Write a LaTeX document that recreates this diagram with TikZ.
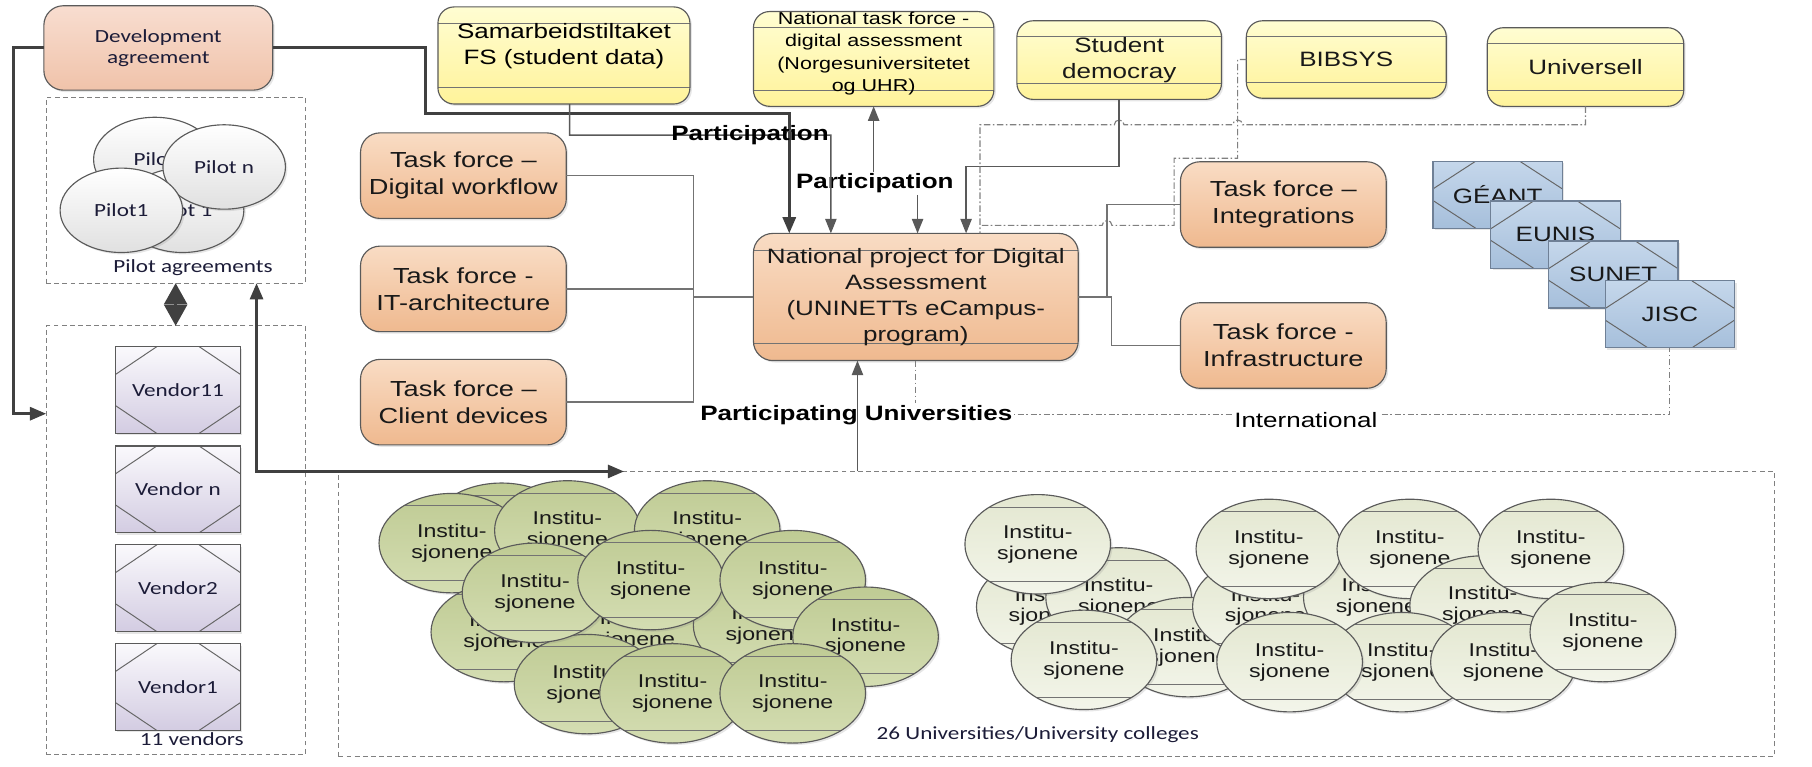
\documentclass[tikz,border=0pt]{standalone}
\usepackage{fontspec}
\setmainfont{Liberation Sans}[FakeStretch=1.25]
\newfontfamily\calfont{Carlito}[FakeStretch=1.25]
\usetikzlibrary{calc,shapes.geometric,arrows.meta,shadows}

\newcommand\mainsz{\fontsize{12.8}{16}\selectfont}
\newcommand\tasksz{\fontsize{13.4}{16.5}\selectfont}
\newcommand\natsz{\fontsize{10.6}{13.8}\selectfont}
\newcommand\instsz{\fontsize{11.4}{12.8}\selectfont}
\newcommand\calsz{\calfont\fontsize{11.4}{12.8}\selectfont}

\definecolor{taskTop}{HTML}{F9DCC4}
\definecolor{taskBot}{HTML}{EFB98F}
\definecolor{devTop}{HTML}{F8DDD0}
\definecolor{devBot}{HTML}{F0C3AA}
\definecolor{yelTop}{HTML}{FFFDD2}
\definecolor{yelBot}{HTML}{FFF39A}
\definecolor{blueTop}{HTML}{C5D7EB}
\definecolor{blueBot}{HTML}{A6BFDB}
\definecolor{netLine}{HTML}{6F8096}
\definecolor{venTop}{HTML}{FAF9FC}
\definecolor{venBot}{HTML}{D3CCE2}
\definecolor{greenTop}{HTML}{BFCB94}
\definecolor{greenBot}{HTML}{D4DDB2}
\definecolor{paleTop}{HTML}{E3E7D0}
\definecolor{paleBot}{HTML}{F3F5EA}
\definecolor{lineGray}{HTML}{5A5A5A}
\definecolor{txtNavy}{HTML}{1C1C38}

\tikzset{
	shade box/.style={draw=lineGray, line width=0.7pt, inner sep=0pt, outer sep=0pt, align=center, text=black!90,
		drop shadow={shadow xshift=1.2pt, shadow yshift=-1.2pt, opacity=0.2}},
	bars/.style={path picture={
		\draw[black!55, line width=0.6pt]
			([yshift=-#1]path picture bounding box.north west) -- ([yshift=-#1]path picture bounding box.north east)
			([yshift=#1]path picture bounding box.south west) -- ([yshift=#1]path picture bounding box.south east);}},
	bars/.default=0.35cm,
	chamfer/.style={path picture={
		\coordinate (cnw) at (path picture bounding box.north west);
		\coordinate (cne) at (path picture bounding box.north east);
		\coordinate (csw) at (path picture bounding box.south west);
		\coordinate (cse) at (path picture bounding box.south east);
		\draw[black!60, line width=0.6pt]
			([yshift=-0.6cm]cnw) -- ($(cnw)!0.33!(cne)$)
			($(cnw)!0.67!(cne)$) -- ([yshift=-0.6cm]cne)
			([yshift=0.6cm]csw) -- ($(csw)!0.33!(cse)$)
			($(csw)!0.67!(cse)$) -- ([yshift=0.6cm]cse);}},
	taskbox/.style={shade box, rounded corners=0.42cm, top color=taskTop, bottom color=taskBot, minimum width=4.45cm, minimum height=1.85cm, font=\tasksz},
	devbox/.style={shade box, rounded corners=0.42cm, top color=devTop, bottom color=devBot, minimum width=4.95cm, minimum height=1.825cm, font=\calsz, text=txtNavy},
	yelbox/.style={shade box, rounded corners=0.35cm, top color=yelTop, bottom color=yelBot, bars, font=\mainsz},
	netbox/.style={shade box, draw=netLine, top color=blueTop, bottom color=blueBot, chamfer, minimum width=2.8cm, minimum height=1.45cm, font=\mainsz},
	venbox/.style={shade box, top color=venTop, bottom color=venBot, chamfer, minimum width=2.7cm, minimum height=1.875cm, font=\calsz, text=txtNavy},
	pilot/.style={shade box, ellipse, top color=white, bottom color=black!12, minimum width=2.65cm, minimum height=1.825cm, font=\calsz, text=txtNavy},
	inst/.style={shade box, ellipse, bars=0.27cm, minimum width=3.15cm, minimum height=2.15cm, font=\instsz},
	greeninst/.style={inst, top color=greenTop, bottom color=greenBot},
	paleinst/.style={inst, top color=paleTop, bottom color=paleBot},
	grpbox/.style={draw=black!50, dash pattern=on 3pt off 2pt, line width=0.6pt, inner sep=0pt, outer sep=0pt},
	caption/.style={font=\calsz, text=txtNavy, inner sep=1pt},
	tagtext/.style={font=\mainsz\bfseries, inner sep=1pt},
	heavy/.style={line width=1.8pt, draw=black!75},
	lnk/.style={line width=0.9pt, draw=black!65, -{Triangle[length=9pt,width=7pt]}},
	thinln/.style={line width=0.9pt, draw=black!55},
	dashln/.style={line width=0.7pt, draw=black!50, dash pattern=on 4pt off 1.5pt on 1pt off 1.5pt},
}

\begin{document}
\begin{tikzpicture}[x=0.025cm, y=-0.025cm]
	%%%%% START %%%%%
	\useasboundingbox (0,0) rectangle (1568,663);

	% dashed groups
	\node[grpbox, minimum width=5.6cm, minimum height=4.025cm] (pilots) at (152,164.5) {};
	\node[grpbox, minimum width=5.6cm, minimum height=9.275cm] (vendors) at (152,467.5) {};
	\node[grpbox, minimum width=31.05cm, minimum height=6.175cm] (unis) at (914,531.5) {};

	\node[devbox] (dev) at (137,41.5) {Development\\agreement};

	\node[pilot] (pa) at (134,138) {Pilot};
	\node[pilot] (pb) at (158,182) {Pilot 1};
	\node[pilot] (pn) at (194,144.5) {Pilot n};
	\node[pilot] (p1) at (105,182) {Pilot1};
	\node[caption] (pilotcap) at (167,232) {Pilot agreements};

	\node[venbox] (v11) at (154,337.5) {Vendor11};
	\node[venbox] (vn) at (154,423.5) {Vendor n};
	\node[venbox] (v2) at (154,509) {Vendor2};
	\node[venbox] (v1) at (154,594.5) {Vendor1};
	\node[caption] (vendcap) at (166,640) {11 vendors};

	% partners on top
	\node[yelbox, minimum width=5.45cm, minimum height=2.1cm,
		label={[font=\mainsz, align=center, yshift=0.2cm]center:{Samarbeidstiltaket\\FS (student data)}}] (samar) at (488,48) {};
	\node[yelbox, minimum width=5.2cm, minimum height=2.05cm,
		label={[font=\natsz, align=center, yshift=0.12cm]center:{National task force -\\digital assessment\\(Norgesuniversitetet\\og UHR)}}] (natl) at (756,51) {};
	\node[yelbox, minimum width=4.425cm, minimum height=1.7cm] (stud) at (968.5,52) {Student\\democray};
	\node[yelbox, minimum width=4.325cm, minimum height=1.675cm] (bib) at (1165,51.5) {BIBSYS};
	\node[yelbox, minimum width=4.25cm, minimum height=1.7cm] (univ) at (1372,58) {Universell};

	% task forces
	\node[taskbox] (dw) at (401,152) {Task force --\\Digital workflow};
	\node[taskbox] (it) at (401,250) {Task force -\\IT-architecture};
	\node[taskbox] (cd) at (401,348) {Task force --\\Client devices};
	\node[taskbox] (integ) at (1110.5,177) {Task force --\\Integrations};
	\node[taskbox] (infra) at (1110.5,299) {Task force -\\Infrastructure};

	\node[taskbox, font=\mainsz, bars=0.37cm, minimum width=7.025cm, minimum height=2.75cm] (center) at (792.5,257)
		{National project for Digital\\Assessment\\(UNINETTs eCampus-\\program)};

	% international
	\node[netbox] (geant) at (1296,168.5) {GÉANT};
	\node[netbox] (eunis) at (1346,203) {EUNIS};
	\node[netbox] (sunet) at (1396,237.5) {SUNET};
	\node[netbox] (jisc) at (1445,272) {JISC};

	% universities
	\node[greeninst] (ga) at (434,461) {Institu-\\sjonene};
	\node[greeninst] (gb) at (391,470) {Institu-\\sjonene};
	\node[greeninst] (gc) at (491,459) {Institu-\\sjonene};
	\node[greeninst] (gd) at (612,459) {Institu-\\sjonene};
	\node[greeninst] (ge) at (436,547) {Institu-\\sjonene};
	\node[greeninst] (gf) at (549,545) {Institu-\\sjonene};
	\node[greeninst] (gg) at (663,541) {Institu-\\sjonene};
	\node[greeninst] (gh) at (508,592) {Institu-\\sjonene};
	\node[greeninst] (gi) at (463,513) {Institu-\\sjonene};
	\node[greeninst] (gj) at (563,502) {Institu-\\sjonene};
	\node[greeninst] (gk) at (686,502) {Institu-\\sjonene};
	\node[greeninst] (gl) at (749,551) {Institu-\\sjonene};
	\node[greeninst] (gm) at (582,600) {Institu-\\sjonene};
	\node[greeninst] (gn) at (686,600) {Institu-\\sjonene};

	\node[paleinst] (ra) at (908,525) {Institu-\\sjonene};
	\node[paleinst] (rb) at (968,517) {Institu-\\sjonene};
	\node[paleinst] (rc) at (898,471) {Institu-\\sjonene};
	\node[paleinst] (rd) at (1028,560) {Institu-\\sjonene};
	\node[paleinst] (re) at (938,571) {Institu-\\sjonene};
	\node[paleinst] (rf) at (1095,525) {Institu-\\sjonene};
	\node[paleinst] (rg) at (1191,517) {Institu-\\sjonene};
	\node[paleinst] (rh) at (1098,475) {Institu-\\sjonene};
	\node[paleinst] (ri) at (1220,475) {Institu-\\sjonene};
	\node[paleinst] (rj) at (1283,524) {Institu-\\sjonene};
	\node[paleinst] (rk) at (1213,573) {Institu-\\sjonene};
	\node[paleinst] (rl) at (1116,573) {Institu-\\sjonene};
	\node[paleinst] (rm) at (1301,573) {Institu-\\sjonene};
	\node[paleinst] (rn) at (1342,475) {Institu-\\sjonene};
	\node[paleinst] (ro) at (1387,547) {Institu-\\sjonene};
	\node[caption] (unicap) at (898,636) {26 Universities/University colleges};

	\node[tagtext] (part2) at (757,158.5) {Participation};

	% connectors
	\draw[heavy, -{Triangle[length=10pt,width=8pt]}] (dev.west) -| (12,358) -- (12,358 -| vendors.west);
	\draw[heavy, -{Triangle[length=10pt,width=8pt]}] (dev.east) -| (368,98) -| (683,0 |- center.north);
	\draw[lnk] ($(samar.south)+(5,0)$) |- (679.3,117) arc[start angle=180, end angle=0, radius=3pt] -- (719,117) -- (719,0 |- center.north);
	\draw[lnk] (part2.north -| natl.south) -- (natl.south);
	\draw[lnk] (794,0 |- part2.south) -- (794,0 |- center.north);
	\draw[lnk] (stud.south) |- (836,144) -- (836,0 |- center.north);

	\draw[dashln] (univ.south) -- (1372,108) -- (1075.2,108) arc[start angle=0, end angle=180, radius=3pt]
		-- (972.7,108) arc[start angle=0, end angle=180, radius=3pt] -- (848,108) -- (848,0 |- center.north);
	\draw[dashln] (bib.west) -| (1071,137) -| (1016,195) -- (962.2,195) arc[start angle=0, end angle=180, radius=3pt] -- (848,195);
	\draw[dashln] (center.south) |- (jisc.south |- 0,359) -- (jisc.south);

	\draw[thinln] (dw.east) -| (600,0 |- cd.east) -- (cd.east);
	\draw[thinln] (it.east) -- (600,0 |- it.east);
	\draw[thinln] (center.west) -- (600,0 |- center.west);
	\draw[thinln] (center.east) -- (958,0 |- center.east) |- (integ.west);
	\draw[thinln] (center.east) -- (962,0 |- center.east) |- (infra.west);

	\draw[heavy, {Triangle[length=10pt,width=8pt]}-{Triangle[length=10pt,width=8pt]}] (222,0 |- pilots.south) |- (540,0 |- unis.north);
	\draw[heavy, {Triangle[length=13pt,width=14pt]}-{Triangle[length=13pt,width=14pt]}] (pilots.south) -- (vendors.north);

	\node[tagtext] (part1) at (649,117) {Participation};
	\node[tagtext, fill=white] (unitag) at (741,359) {Participating Universities};
	\node[font=\mainsz, fill=white, inner sep=1pt] (inttag) at (1130,363.5) {International};
	\draw[lnk] (742,0 |- unis.north) -- (742,0 |- center.south);
	%%%%% END %%%%%
\end{tikzpicture}
\end{document}
